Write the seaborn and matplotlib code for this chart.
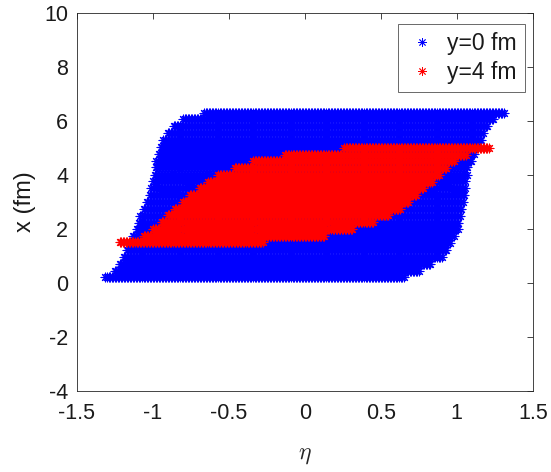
import numpy as np
import pandas as pd
import matplotlib
matplotlib.use("Agg")
import matplotlib.pyplot as plt
import seaborn as sns

# ---- data (row position x in fm, eta extent per row) ----
blue_x = [0.20, 0.45, 0.71, 0.96, 1.22, 1.47, 1.73, 1.98, 2.23, 2.49, 2.74, 3.00, 3.25,
          3.50, 3.76, 4.01, 4.27, 4.52, 4.78, 5.03, 5.28, 5.54, 5.79, 6.05, 6.30]
blue_eta_min = [-1.31, -1.25, -1.215, -1.19, -1.17, -1.155, -1.13, -1.105, -1.09, -1.08,
                -1.06, -1.04, -1.02, -1.008, -0.997, -0.986, -0.98, -0.975, -0.96, -0.946,
                -0.93, -0.90, -0.86, -0.80, -0.66]
blue_eta_max = [0.65, 0.75, 0.83, 0.90, 0.93, 0.96, 0.985, 1.005, 1.015, 1.025, 1.03,
                1.04, 1.05, 1.055, 1.06, 1.065, 1.077, 1.10, 1.11, 1.14, 1.165, 1.175,
                1.20, 1.24, 1.31]

red_x = [1.50, 1.75, 2.00, 2.25, 2.50, 2.75, 3.00, 3.25, 3.50, 3.75, 4.00, 4.25, 4.50,
         4.75, 5.00]
red_eta_min = [-1.216, -1.06, -0.997, -0.94, -0.90, -0.855, -0.80, -0.756, -0.69, -0.636,
               -0.57, -0.46, -0.34, -0.13, 0.26]
red_eta_max = [-0.27, 0.135, 0.32, 0.45, 0.55, 0.63, 0.68, 0.74, 0.78, 0.836, 0.88,
               0.935, 0.98, 1.06, 1.21]

series_labels = ["y=0 fm", "y=4 fm"]
series_colors = ["#0000ff", "#ff0000"]
x_ticks = [-1.5, -1, -0.5, 0, 0.5, 1, 1.5]
x_tick_labels = ["-1.5", "-1", "-0.5", "0", "0.5", "1", "1.5"]
y_ticks = [-4, -2, 0, 2, 4, 6, 8, 10]
eta_step = 0.01  # sampling of points along each row


def rows_to_frame(xs, lo, hi, label):
    recs = []
    for xv, a, b in zip(xs, lo, hi):
        for e in np.arange(a, b + 1e-9, eta_step):
            recs.append((e, xv, label))
    return pd.DataFrame(recs, columns=["eta", "x", "series"])


df_blue = rows_to_frame(blue_x, blue_eta_min, blue_eta_max, series_labels[0])
df_red = rows_to_frame(red_x, red_eta_min, red_eta_max, series_labels[1])

sns.set_style("white")
plt.rcParams["font.family"] = ["Liberation Sans", "DejaVu Sans"]
plt.rcParams["mathtext.fontset"] = "cm"

fig = plt.figure(figsize=(5.51, 4.72), dpi=100)
ax = fig.add_axes([0.139, 0.172, 0.828, 0.801])

star = (8, 2, 0)
for d, lab, col in [(df_blue, series_labels[0], series_colors[0]),
                    (df_red, series_labels[1], series_colors[1])]:
    sns.scatterplot(data=d, x="eta", y="x", ax=ax, marker=star, s=40,
                    color=col, edgecolor=col, linewidth=0.8, label=lab, legend=False)

ax.set_xlim(-1.5, 1.5)
ax.set_ylim(-4, 10)
ax.set_xticks(x_ticks)
ax.set_xticklabels(x_tick_labels)
ax.set_yticks(y_ticks)
ax.set_yticklabels([str(v) for v in y_ticks])

ax.tick_params(direction="in", length=4, width=0.6, colors="#262626", labelsize=15.5,
               top=True, right=True, labelcolor="#1a1a1a")
ax.tick_params(axis="x", pad=9)
ax.tick_params(axis="y", pad=6)
for sp in ax.spines.values():
    sp.set_visible(True)
    sp.set_color("#262626")
    sp.set_linewidth(0.6)

ax.set_xlabel(r"$\eta$", fontsize=17, color="#262626", labelpad=14)
ax.set_ylabel("x (fm)", fontsize=17, color="#1a1a1a", labelpad=6)

handles = [plt.Line2D([], [], linestyle="none", marker=star, markersize=6,
                      markeredgewidth=0.6, color=c) for c in series_colors]
leg = ax.legend(handles, series_labels, loc="upper right", fontsize=16.5, frameon=True,
                fancybox=False, edgecolor="#262626", borderpad=0.35, handlelength=1.4,
                handletextpad=0.4, labelspacing=0.25, borderaxespad=0.0,
                bbox_to_anchor=(0.982, 0.970))
leg.get_frame().set_linewidth(0.6)
for t in leg.get_texts():
    t.set_color("#1a1a1a")

fig.savefig("out.png", dpi=100)
